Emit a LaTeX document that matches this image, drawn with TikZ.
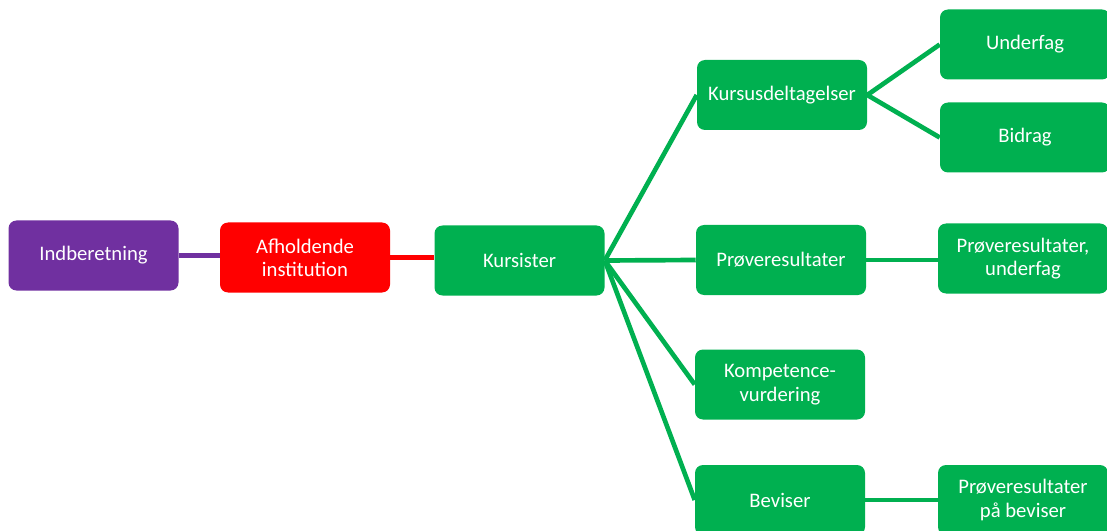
\documentclass[tikz,border=0pt]{standalone}
\usepackage{fontspec}
\setmainfont{Carlito}
\usepackage{xcolor}
\usepackage{tikz}
\definecolor{boxgreen}{RGB}{0,176,80}
\definecolor{boxred}{RGB}{255,0,0}
\definecolor{boxpurple}{RGB}{112,48,160}

\begin{document}
\begin{tikzpicture}[x=0.75pt,y=-0.75pt,
  box/.style={rounded corners=6pt,minimum width=127.5pt,minimum height=52.5pt,
    text=white,align=center,font=\fontsize{15.5}{17.5}\selectfont,inner sep=2pt},
  link/.style={line width=3.5pt}]
\useasboundingbox (0,0) rectangle (1107,531);
% left part
\node[box,fill=boxpurple] (ind) at (93.5,255.5) {Indberetning};
\node[box,fill=boxred] (afh) at (305,257.5) {Afholdende\\institution};
\node[box,fill=boxgreen] (kur) at (519.5,260.5) {Kursister};
% middle column
\node[box,fill=boxgreen] (kdt) at (782,95) {Kursusdeltagelser};
\node[box,fill=boxgreen] (prv) at (781,260) {Prøveresultater};
\node[box,fill=boxgreen] (kmp) at (780,384.5) {Kompetence-\\vurdering};
\node[box,fill=boxgreen] (bev) at (780,500) {Beviser};
% right column
\node[box,fill=boxgreen] (und) at (1025,44.5) {Underfag};
\node[box,fill=boxgreen] (bid) at (1025,137.5) {Bidrag};
\node[box,fill=boxgreen] (pru) at (1023,258.5) {Prøveresultater,\\underfag};
\node[box,fill=boxgreen] (ppb) at (1023,500) {Prøveresultater\\på beviser};
% connectors
\draw[link,boxpurple] (ind.east) -- (afh.west |- ind.east);
\draw[link,boxred] (afh.east) -- (kur.west |- afh.east);
\foreach \n in {kdt,prv,kmp,bev}
  \draw[link,boxgreen] (kur.east) -- (\n.west);
\draw[link,boxgreen] (kdt.east) -- (und.west);
\draw[link,boxgreen] (kdt.east) -- (bid.west);
\draw[link,boxgreen] (prv.east) -- (pru.west |- prv.east);
\draw[link,boxgreen] (bev.east) -- (ppb.west);
\end{tikzpicture}
\end{document}
